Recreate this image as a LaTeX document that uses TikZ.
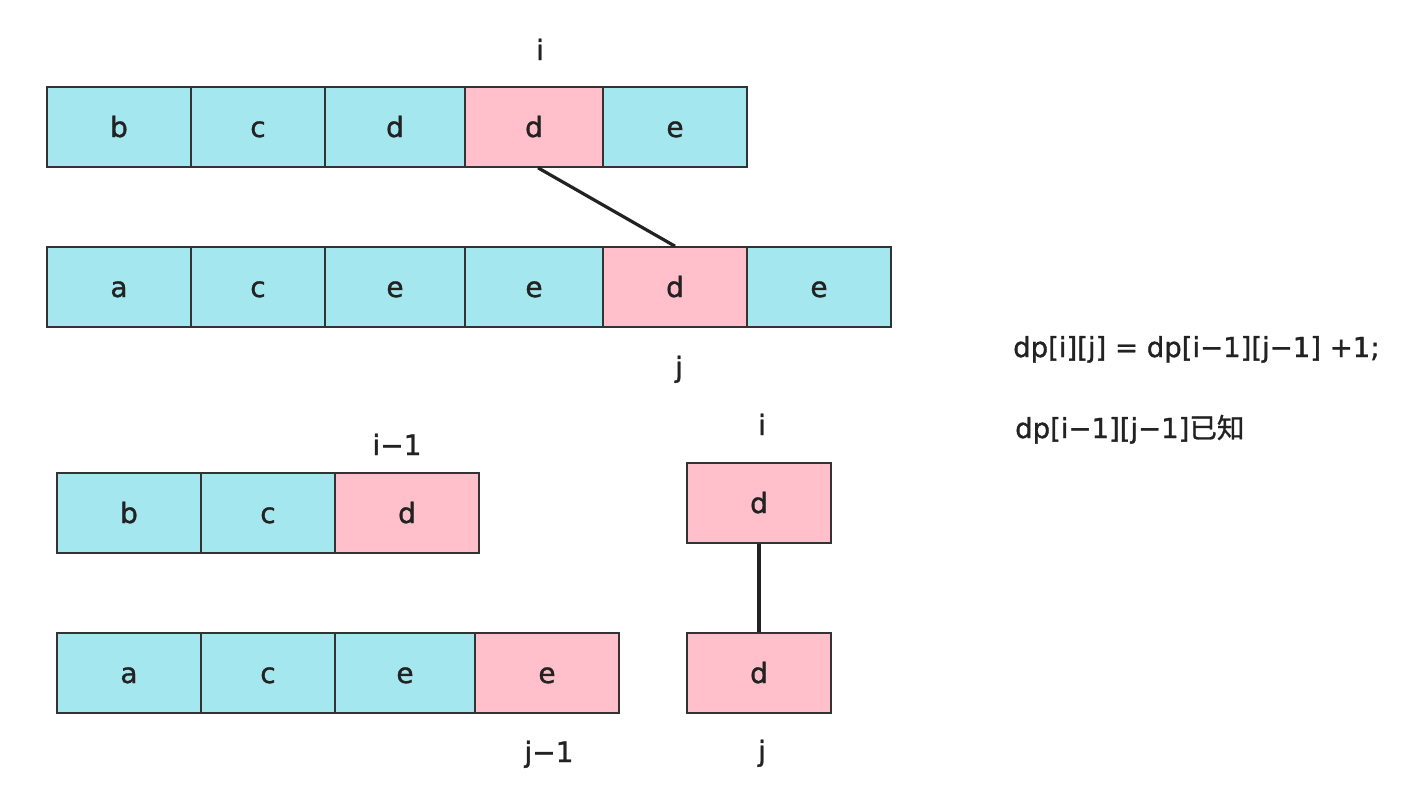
\documentclass[tikz,border=0pt]{standalone}
\usepackage{fontspec}
\setmainfont{DejaVu Sans}[FakeBold=1.2]
\newfontfamily\txt{DejaVu Sans}[FakeBold=1.2]
\newfontfamily\cjk{Noto Sans CJK SC}[FakeBold=1.0]
\definecolor{cellcyan}{HTML}{A5E7EE}
\definecolor{cellpink}{HTML}{FFC0CB}
\definecolor{ink}{HTML}{222222}
\definecolor{edgec}{HTML}{333333}
\begin{document}
\begin{tikzpicture}[x=1pt,y=-1pt,
  cell/.style={draw=edgec, line width=1.6pt, minimum height=80pt, inner sep=0pt,
    text height=20pt, text depth=0pt, font=\txt\fontsize{28}{30}\selectfont, text=ink},
  cy/.style={cell, fill=cellcyan},
  pk/.style={cell, fill=cellpink},
  lbl/.style={anchor=base, inner sep=0pt, font=\txt\fontsize{28}{30}\selectfont, text=ink},
  link/.style={draw=ink, line width=3.2pt}]
\useasboundingbox (0,0) rectangle (1420,806);
% row 1
\node[cy, minimum width=144pt] (t1) at (119,127) {b};
\node[cy, minimum width=134pt] (t2) at (258,127) {c};
\node[cy, minimum width=140pt] (t3) at (395,127) {d};
\node[pk, minimum width=138pt] (t4) at (534,127) {d};
\node[cy, minimum width=144pt] (t5) at (675,127) {e};
% row 2
\node[cy, minimum width=144pt] (b1) at (119,287) {a};
\node[cy, minimum width=134pt] (b2) at (258,287) {c};
\node[cy, minimum width=140pt] (b3) at (395,287) {e};
\node[cy, minimum width=138pt] (b4) at (534,287) {e};
\node[pk, minimum width=144pt] (b5) at (675,287) {d};
\node[cy, minimum width=144pt] (b6) at (819,287) {e};
% row 3
\node[cy, minimum width=144pt] (c1) at (129,513) {b};
\node[cy, minimum width=134pt] (c2) at (268,513) {c};
\node[pk, minimum width=144pt] (c3) at (407,513) {d};
% row 4
\node[cy, minimum width=144pt] (d1) at (129,673) {a};
\node[cy, minimum width=134pt] (d2) at (268,673) {c};
\node[cy, minimum width=140pt] (d3) at (405,673) {e};
\node[pk, minimum width=144pt] (d4) at (547,673) {e};
% right pair
\node[pk, minimum width=144pt] (r1) at (759,503) {d};
\node[pk, minimum width=144pt] (r2) at (759,673) {d};
% connectors
\draw[link] ([xshift=4pt]t4.south) -- (b5.north);
\draw[link] (r1.south) -- (r2.north);
% labels
\node[lbl] (li) at (540,60) {i};
\node[lbl] (lj) at (679,377) {j};
\node[lbl] (li1) at (397,455) {i−1};
\node[lbl] (lj1) at (549,762) {j−1};
\node[lbl] (ri) at (762,435) {i};
\node[lbl] (rj) at (762,761) {j};
\node[lbl, anchor=base west, font=\txt\fontsize{27.5}{30}\selectfont] (eq1) at (1013,357) {dp[i][j] = dp[i−1][j−1] +1;};
\node[lbl, anchor=base west, font=\txt\fontsize{27.5}{30}\selectfont] (eq2) at (1015,438) {dp[i−1][j−1]{\cjk 已知}};
\end{tikzpicture}
\end{document}
